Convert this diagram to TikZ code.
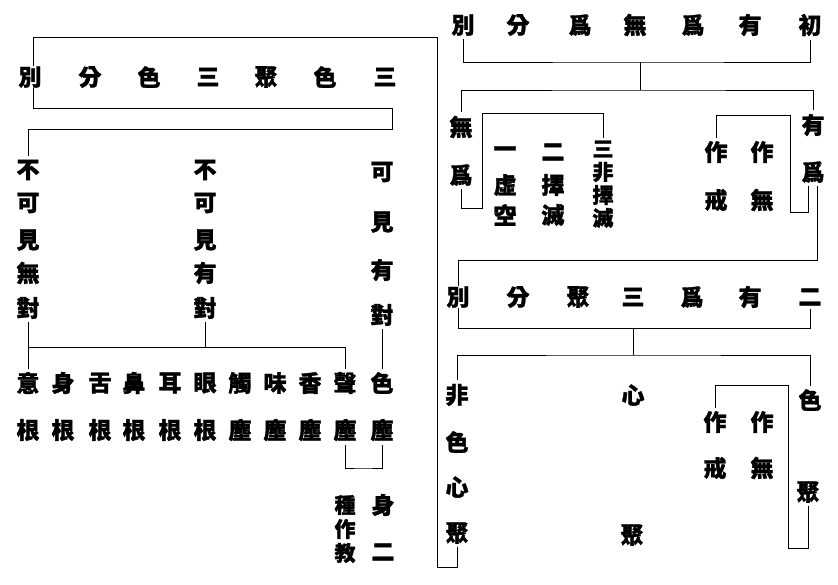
\documentclass[tikz,border=0pt]{standalone}
\usepackage{fontspec}
\newfontfamily\cjk{Noto Sans CJK TC}[BoldFeatures={FakeBold=1.3}]
\usetikzlibrary{backgrounds}
\begin{document}
\begin{tikzpicture}[x=1pt,y=-1pt,
  ch/.style={font=\cjk\bfseries\fontsize{23}{23}\selectfont, inner sep=0.5pt, outer sep=3pt, fill=white},
  chs/.style={ch, font=\cjk\bfseries\fontsize{21}{21}\selectfont, fill=none, outer sep=2pt},
  ln/.style={line width=1.6pt, black}]
\useasboundingbox (0,0) rectangle (838,584);
% ---------- left part: title ----------
\foreach \c/\x [count=\i] in {別/30,分/90,色/149,三/208,聚/266,色/325,三/385}
  \node[ch] (LT\i) at (\x,77) {\c};
% columns
\foreach \c/\y [count=\i] in {不/170,可/203,見/240,無/273,對/308}
  \node[ch] (A\i) at (28,\y) {\c};
\foreach \c/\y [count=\i] in {不/170,可/203,見/240,有/273,對/308}
  \node[ch] (B\i) at (205,\y) {\c};
\foreach \c/\y [count=\i] in {可/172,見/222,有/270,對/315}
  \node[ch] (C\i) at (382,\y) {\c};
% rows
\foreach \c/\x [count=\i] in {意/28,身/63,舌/100,鼻/134,耳/170,眼/205,觸/240,味/275,香/310,聲/345,色/382}
  \node[ch] (R\i) at (\x,383) {\c};
\foreach \c/\x [count=\i] in {根/28,根/63,根/100,根/134,根/170,根/205,塵/240,塵/275,塵/310,塵/345,塵/382}
  \node[ch] (S\i) at (\x,430) {\c};
\foreach \c/\y [count=\i] in {種/505,作/529,教/553}
  \node[chs] (K\i) at (345,\y) {\c};
\node[ch] (M1) at (383,505) {身};
\node[ch] (M2) at (383,552) {二};
% ---------- right part ----------
\foreach \c/\x [count=\i] in {別/463,分/518,爲/580,無/635,爲/693,有/750,初/810}
  \node[ch] (RT\i) at (\x,25) {\c};
\node[ch] (W1) at (461,127) {無};
\node[ch] (W2) at (461,175) {爲};
\foreach \c/\y [count=\i] in {一/152,虛/185,空/215}
  \node[ch] (P\i) at (505,\y) {\c};
\foreach \c/\y [count=\i] in {二/152,擇/185,滅/215}
  \node[ch] (Q\i) at (553,\y) {\c};
\foreach \c/\y [count=\i] in {三/149,非/172,擇/195,滅/218}
  \node[chs] (N\i) at (603,\y) {\c};
\node[ch] (U1) at (716,152) {作};
\node[ch] (U2) at (762,152) {作};
\node[ch] (U3) at (716,200) {戒};
\node[ch] (U4) at (762,200) {無};
\node[ch] (Y1) at (813,125) {有};
\node[ch] (Y2) at (813,172) {爲};
\foreach \c/\x [count=\i] in {別/458,分/518,聚/578,三/633,爲/692,有/750,二/810}
  \node[ch] (ST\i) at (\x,297) {\c};
\foreach \c/\y [count=\i] in {非/395,色/442,心/487,聚/533}
  \node[ch] (F\i) at (457,\y) {\c};
\node[ch] (H1) at (633,395) {心};
\node[ch] (H2) at (632,535) {聚};
\node[ch] (G1) at (810,400) {色};
\node[ch] (G2) at (808,492) {聚};
\node[ch] (V1) at (715,422) {作};
\node[ch] (V2) at (762,422) {作};
\node[ch] (V3) at (715,468) {戒};
\node[ch] (V4) at (762,468) {無};
% ---------- connectors ----------
\begin{scope}[on background layer, ln]
\fill[white] (0,0) rectangle (838,584);
\coordinate (jA) at (437,37);
\coordinate (jB) at (437,567);
\draw (F4.south) |- (jB) -- (jA) -- (33,37) -- (33,108) -- (392,108) -- (392,129) -| (A1.north);
\draw (A5.south) -- (R1.north);
\draw (R1.north |- 0,347) -| (R10.north);
\draw (B5.south) -- (B5.south |- 0,347);
\draw (C4.south) -- (R11.north);
\coordinate (jC) at (363,468);
\draw (S10.south) |- (jC) -| (S11.south);
% right top
\draw (RT1.south) |- (640,62) -| (RT7.south);
\draw (640,62) -- (640,90);
\draw (W1.north) |- (640,90) -| (Y1.north);
\coordinate (jD) at (482,208);
\draw (W2.south) |- (jD) -- (482,113) -| (N1.north);
\coordinate (jE) at (790,115);
\draw (U1.north) |- (jE) -- (790,212) -| ([xshift=-5pt]Y2.south);
\coordinate (jF) at (458,260);
\draw ([xshift=4pt]Y2.south) |- (jF) -- (458,328) -| (ST7.south);
\draw (633,328) -- (633,355);
\draw (F1.north) |- (633,355) -| (G1.north);
\coordinate (jG) at (788,385);
\draw (V1.north) |- (jG) -- (788,548) -| (G2.south);
\end{scope}
\end{tikzpicture}
\end{document}
